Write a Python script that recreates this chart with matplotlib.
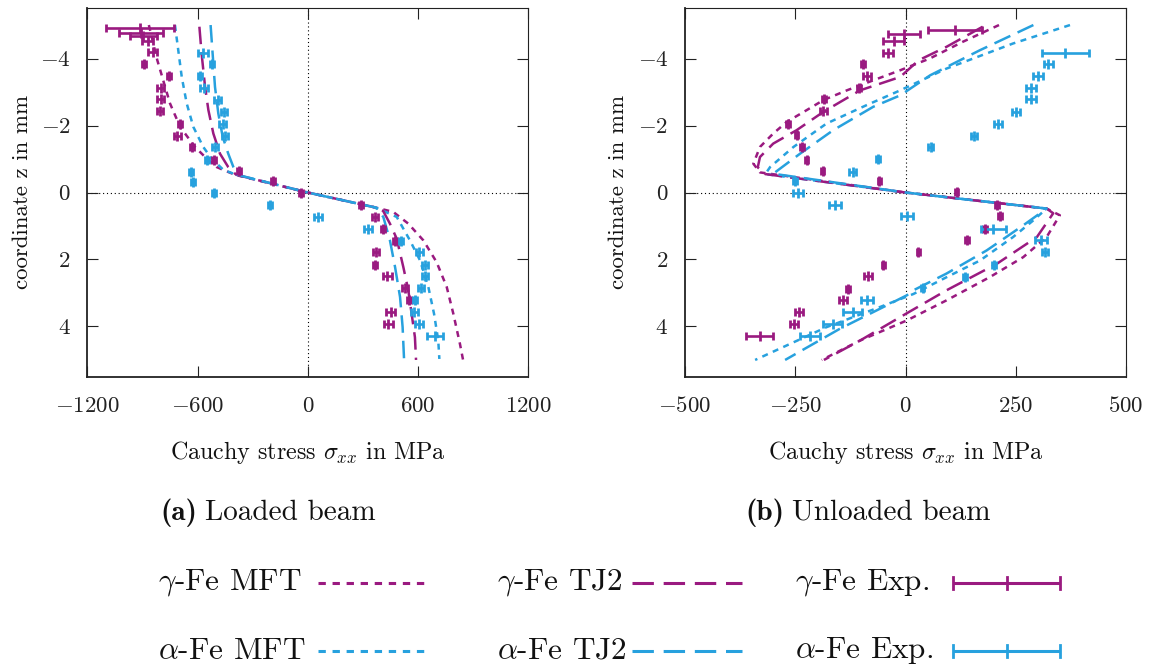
import matplotlib
matplotlib.use("Agg")
import matplotlib.pyplot as plt

plt.rcParams['font.family'] = 'cmr10'
plt.rcParams['mathtext.fontset'] = 'cm'
plt.rcParams['axes.formatter.use_mathtext'] = True
plt.rcParams['axes.unicode_minus'] = True

PURPLE = '#9a1a80'
BLUE = '#27a1de'

# ---------------- data: loaded beam (a) ----------------
a_gMFT_z = [-5.0, -3.95, -2.66, -1.96, -1.36, -1.06, -0.76, -0.63, -0.52, 0.0, 0.45, 0.58, 0.93, 1.43, 2.08, 2.82, 3.62, 4.52, 5.0]
a_gMFT_s = [-865, -819, -750, -695, -614, -559, -496, -441, -390, 0, 370, 465, 547, 629, 701, 756, 792, 828, 845]
a_gTJ2_z = [-4.95, -4.15, -3.15, -2.46, -1.76, -1.16, -0.76, -0.53, 0.0, 0.45, 0.55, 0.93, 1.38, 2.23, 2.92, 3.62, 4.32, 5.0]
a_gTJ2_s = [-590, -578, -559, -541, -514, -478, -433, -390, 0, 370, 410, 447, 484, 520, 547, 565, 583, 589]
a_aMFT_z = [-5.0, -4.25, -3.45, -2.66, -1.96, -1.36, -1.01, -0.68, -0.53, 0.0, 0.45, 0.73, 1.43, 2.03, 2.82, 3.62, 4.42, 4.97]
a_aMFT_s = [-723, -705, -686, -659, -623, -569, -523, -460, -390, 0, 370, 484, 556, 611, 656, 687, 710, 716]
a_aTJ2_z = [-5.0, -4.15, -3.15, -2.36, -1.66, -1.16, -0.76, -0.53, 0.0, 0.45, 0.73, 1.43, 2.23, 3.12, 4.02, 5.0]
a_aTJ2_s = [-529, -518, -505, -487, -463, -433, -405, -385, 0, 370, 411, 447, 475, 502, 516, 524]

a_gExp_z = [-4.90, -4.77, -4.67, -4.52, -4.20, -3.85, -3.47, -3.13, -2.78, -2.43, -2.04, -1.69, -1.36, -0.98,
            -0.64, -0.34, 0.01, 0.38, 0.73, 1.08, 1.45, 1.78, 2.15, 2.50, 2.84, 3.20, 3.57, 3.94]
a_gExp_s = [-913, -906, -895, -872, -845, -891, -755, -801, -801, -804, -695, -710, -632, -510,
            -373, -191, -39, 288, 366, 408, 475, 371, 366, 433, 529, 552, 451, 438]
a_gExp_e = [183, 120, 72, 32, 23, 11, 11, 18, 18, 18, 11, 18, 11, 11,
            11, 11, 11, 11, 18, 11, 11, 18, 11, 25, 18, 11, 25, 25]
a_aExp_z = [-4.18, -3.83, -3.47, -3.12, -2.76, -2.41, -2.04, -1.69, -1.36, -0.98, -0.61, -0.31, 0.01,
            0.38, 0.73, 1.08, 1.45, 1.78, 2.15, 2.50, 2.84, 3.22, 3.57, 3.94, 4.29]
a_aExp_s = [-572, -519, -587, -563, -490, -456, -463, -451, -505, -550, -636, -623, -510,
            -206, 57, 329, 505, 607, 638, 638, 616, 583, 580, 607, 692]
a_aExp_e = [28, 11, 11, 22, 18, 18, 18, 18, 18, 11, 11, 11, 11,
            11, 22, 22, 11, 18, 18, 18, 18, 11, 18, 22, 45]

# ---------------- data: unloaded beam (b) ----------------
b_gMFT_z = [-5.0, -4.5, -4.0, -3.65, -3.35, -3.05, -2.76, -2.46, -2.11, -1.76, -1.36, -0.86, -0.6, 0.0,
            0.48, 0.68, 1.33, 1.93, 2.52, 3.22, 3.82, 4.42, 5.0]
b_gMFT_s = [212, 130, 55, -12, -73, -133, -186, -224, -269, -300, -330, -345, -330, 0,
            320, 350, 320, 267, 192, 93, 3, -103, -190]
b_gTJ2_z = [-4.95, -4.35, -3.95, -3.45, -3.05, -2.41, -1.86, -1.46, -1.06, -0.75, -0.55, 0.0,
            0.48, 0.62, 1.33, 2.13, 2.92, 3.72, 4.42, 5.0]
b_gTJ2_s = [175, 93, 30, -12, -103, -186, -247, -300, -330, -335, -318, 0,
            320, 335, 298, 207, 93, -12, -103, -185]
b_aMFT_z = [-5.0, -4.45, -3.70, -3.05, -2.61, -2.06, -1.36, -0.76, -0.55, 0.0,
            0.48, 0.83, 1.33, 2.03, 2.53, 3.03, 3.42, 4.02, 5.0]
b_aMFT_s = [373, 244, 93, -12, -88, -179, -254, -307, -318, 0,
            320, 290, 244, 169, 93, 18, -58, -179, -341]
b_aTJ2_z = [-5.0, -4.25, -3.50, -2.90, -2.56, -1.86, -1.16, -0.56, 0.0,
            0.48, 0.98, 1.73, 2.42, 2.92, 3.07, 4.07, 5.0]
b_aTJ2_s = [290, 169, 56, -12, -73, -164, -239, -300, 0,
            320, 267, 184, 93, 18, 3, -149, -273]

b_gExp_z = [-4.85, -4.74, -4.51, -4.18, -3.85, -3.48, -3.13, -2.78, -2.43, -2.04, -1.71, -1.36, -0.98,
            -0.63, -0.34, -0.01, 0.38, 0.71, 1.08, 1.43, 1.78, 2.15, 2.50, 2.87, 3.22, 3.57, 3.94, 4.29]
b_gExp_s = [112, -3, -27, -40, -96, -88, -105, -185, -186, -266, -247, -235, -224,
            -188, -59, 116, 207, 214, 180, 139, 29, -50, -84, -130, -141, -241, -253, -331]
b_gExp_e = [62, 36, 24, 11, 4, 9, 4, 4, 9, 4, 4, 4, 4,
            4, 4, 4, 4, 4, 4, 4, 4, 4, 9, 4, 9, 9, 9, 30]
b_aExp_z = [-4.18, -3.83, -3.47, -3.12, -2.78, -2.41, -2.06, -1.69, -1.36, -0.99, -0.61, -0.34, 0.01,
            0.36, 0.71, 1.08, 1.43, 1.78, 2.15, 2.52, 2.85, 3.20, 3.57, 3.94, 4.29]
b_aExp_s = [362, 324, 301, 285, 285, 250, 209, 155, 57, -62, -120, -251, -243,
            -160, 3, 199, 307, 316, 201, 135, 39, -87, -120, -165, -217]
b_aExp_e = [53, 11, 11, 11, 11, 9, 9, 7, 6, 4, 7, 4, 11,
            13, 13, 28, 13, 7, 4, 4, 4, 13, 22, 22, 22]

x_ticks_a = [-1200, -600, 0, 600, 1200]
x_ticks_b = [-500, -250, 0, 250, 500]
z_ticks = [-4, -2, 0, 2, 4]

legend_labels = [r'$\gamma$-Fe MFT', r'$\gamma$-Fe TJ2', r'$\gamma$-Fe Exp.',
                 r'$\alpha$-Fe MFT', r'$\alpha$-Fe TJ2', r'$\alpha$-Fe Exp.']

# ---------------- figure ----------------
W, H = 1150, 667
fig = plt.figure(figsize=(W / 100, H / 100), dpi=100)


def rect(l, t, r, b):
    return [l / W, 1 - b / H, (r - l) / W, (b - t) / H]


DOT = (0, (2.4, 2.2))
DASH = (0, (7.0, 3.2))
LW = 1.8
FS = 16.5
FSL = 17.3


def style_axes(ax, xticks, xlim):
    ax.set_xlim(*xlim)
    ax.set_ylim(5.5, -5.5)
    ax.set_xticks(xticks)
    ax.set_yticks(z_ticks)
    ax.tick_params(direction='in', length=8, width=0.8, top=True, right=True,
                   labelsize=FS, colors='#222222')
    ax.tick_params(axis='x', pad=14)
    ax.tick_params(axis='y', pad=12)
    for s in ['left', 'bottom']:
        ax.spines[s].set_linewidth(1.3)
    for s in ['top', 'right']:
        ax.spines[s].set_linewidth(0.8)
    for s in ax.spines.values():
        s.set_color('#222222')
    ax.axvline(0, color='black', lw=0.8, ls=(0, (1, 2.5)), zorder=1)
    ax.axhline(0, color='black', lw=0.8, ls=(0, (1, 2.5)), zorder=1)


def exp_points(ax, s, z, e, color):
    ax.errorbar(s, z, xerr=e, fmt='|', color=color, ms=6.5, mew=2.0,
                elinewidth=1.9, capsize=3.2, capthick=2.0, zorder=3)


axA = fig.add_axes(rect(87.3, 8.3, 528.3, 376.7))
style_axes(axA, x_ticks_a, (-1200, 1200))
axA.plot(a_gMFT_s, a_gMFT_z, color=PURPLE, lw=LW, ls=DOT, zorder=2)
axA.plot(a_aMFT_s, a_aMFT_z, color=BLUE, lw=LW, ls=DOT, zorder=2)
axA.plot(a_gTJ2_s, a_gTJ2_z, color=PURPLE, lw=LW, ls=DASH, zorder=2)
axA.plot(a_aTJ2_s, a_aTJ2_z, color=BLUE, lw=LW, ls=DASH, zorder=2)
exp_points(axA, a_gExp_s, a_gExp_z, a_gExp_e, PURPLE)
exp_points(axA, a_aExp_s, a_aExp_z, a_aExp_e, BLUE)

axB = fig.add_axes(rect(685, 8.3, 1126, 376.7))
style_axes(axB, x_ticks_b, (-500, 500))
axB.plot(b_gMFT_s, b_gMFT_z, color=PURPLE, lw=LW, ls=DOT, zorder=2)
axB.plot(b_aMFT_s, b_aMFT_z, color=BLUE, lw=LW, ls=DOT, zorder=2)
axB.plot(b_gTJ2_s, b_gTJ2_z, color=PURPLE, lw=LW, ls=DASH, zorder=2)
axB.plot(b_aTJ2_s, b_aTJ2_z, color=BLUE, lw=LW, ls=DASH, zorder=2)
exp_points(axB, b_gExp_s, b_gExp_z, b_gExp_e, PURPLE)
exp_points(axB, b_aExp_s, b_aExp_z, b_aExp_e, BLUE)

# ---------------- overlay for labels, captions and legend ----------------
ov = fig.add_axes([0, 0, 1, 1], zorder=-1)
ov.set_xlim(0, W)
ov.set_ylim(H, 0)
ov.axis('off')

TC = '#111111'
for cx in (308, 906):
    ov.text(cx, 452, r'Cauchy stress $\sigma_{xx}$ in MPa', ha='center', va='center',
            fontsize=FSL, color=TC)
for cx in (22, 618):
    ov.text(cx, 192, 'coordinate z in mm', ha='center', va='center', rotation=90,
            fontsize=FS, color=TC)

fig.canvas.draw()
inv = ov.transData.inverted()
for x0, tag, rest in ((160, '(a)', 'Loaded beam'), (745, '(b)', 'Unloaded beam')):
    t1 = ov.text(x0, 520, tag, family='cmb10', fontsize=21, ha='left', va='baseline', color=TC)
    bb = t1.get_window_extent(renderer=fig.canvas.get_renderer())
    xe = inv.transform((bb.x1, bb.y0))[0]
    ov.text(xe + 8, 520, rest, ha='left', va='baseline', fontsize=21, color=TC)

rows_y = [583, 651]
text_x = [158, 497, 795]
handle_x = [(318, 425), (632, 742), (953, 1060)]
colors = [PURPLE, BLUE]
styles = [DOT, DASH, None]
for r, y in enumerate(rows_y):
    for c in range(3):
        ov.text(text_x[c], y, legend_labels[3 * r + c], ha='left', va='center',
                fontsize=22.5, color=TC)
        x0, x1 = handle_x[c]
        if styles[c] is not None:
            ov.plot([x0, x1], [y, y], color=colors[r], lw=2.2, ls=styles[c],
                    solid_capstyle='butt', dash_capstyle='butt')
        else:
            ov.plot([x0, x1], [y, y], color=colors[r], lw=2.2, solid_capstyle='butt')
            for xx in (x0, (x0 + x1) / 2, x1):
                ov.plot([xx, xx], [y - 6, y + 6], color=colors[r], lw=2.0)

fig.savefig('out.png', dpi=100)
